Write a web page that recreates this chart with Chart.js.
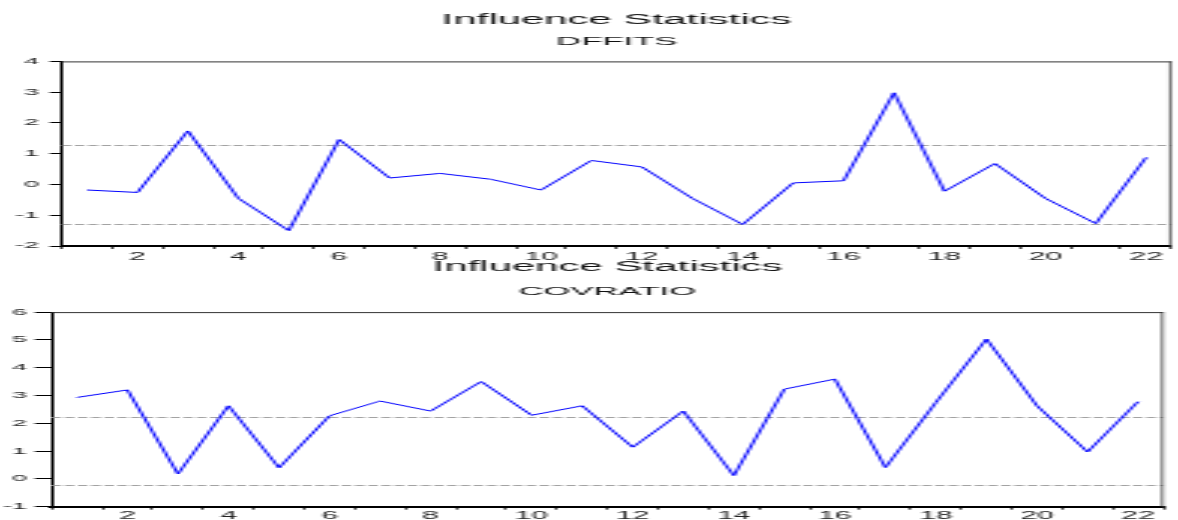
<!DOCTYPE html>
<html>
<head>
<meta charset="utf-8">
<script src="https://cdn.jsdelivr.net/npm/chart.js@4"></script>
<style>
  body { margin: 0; background: #fff; }
  #wrap { position: relative; width: 1178px; height: 520px; overflow: hidden; }
  canvas { position: absolute; left: 0; }
</style>
</head>
<body>
<div id="wrap">
  <!-- drawn at a third of the width and stretched, like the wide EViews export -->
  <canvas id="dffitsChart" width="393" height="264" style="top:0;width:1178px;height:264px"></canvas>
  <canvas id="covChart" width="393" height="272" style="top:248px;width:1178px;height:272px"></canvas>
</div>
<script>
// observation numbers on the x axis
var observations = ['1','2','3','4','5','6','7','8','9','10','11','12','13','14','15','16','17','18','19','20','21','22'];

// values
var dffits = [-0.18, -0.26, 1.74, -0.45, -1.50, 1.46, 0.21, 0.36, 0.17, -0.18, 0.78, 0.57, -0.45, -1.30, 0.05, 0.12, 2.98, -0.22, 0.68, -0.45, -1.27, 0.88];
var covratio = [2.93, 3.20, 0.18, 2.63, 0.40, 2.27, 2.80, 2.44, 3.50, 2.29, 2.63, 1.14, 2.44, 0.12, 3.23, 3.59, 0.41, 2.75, 5.03, 2.63, 0.97, 2.78];

// dashed cut-off lines
var dffitsBounds = [1.28, -1.28];
var covratioBounds = [2.21, -0.21];

var FONT = "'Liberation Sans', Arial, sans-serif";

// dashed reference lines + top/right frame of the plot box
var refLines = {
  id: 'refLines',
  beforeDatasetsDraw: function (chart, args, opts) {
    var ctx = chart.ctx, a = chart.chartArea, y = chart.scales.y;
    ctx.save();
    ctx.strokeStyle = '#a3a3a3';
    ctx.lineWidth = 1;
    ctx.setLineDash([3.2, 1.2]);
    opts.values.forEach(function (v) {
      var py = Math.round(y.getPixelForValue(v)) + 0.5;
      ctx.beginPath();
      ctx.moveTo(a.left, py);
      ctx.lineTo(a.right, py);
      ctx.stroke();
    });
    ctx.setLineDash([]);
    ctx.strokeStyle = '#333';
    ctx.beginPath();
    ctx.moveTo(a.left, a.top + 0.5);
    ctx.lineTo(a.right, a.top + 0.5);
    ctx.stroke();
    ctx.lineWidth = 0.7;
    ctx.beginPath();
    ctx.moveTo(a.right - 0.35, a.top);
    ctx.lineTo(a.right - 0.35, a.bottom);
    ctx.stroke();
    ctx.restore();
  }
};

function makeChart(id, subtitle, values, bounds, yMin, yMax, lay) {
  return new Chart(document.getElementById(id), {
    type: 'line',
    data: {
      labels: observations,
      datasets: [{
        label: subtitle,
        data: values,
        borderColor: '#0000ff',
        borderWidth: 1,
        pointRadius: 0,
        tension: 0,
        fill: false
      }]
    },
    plugins: [refLines],
    options: {
      responsive: false,
      devicePixelRatio: 1,
      animation: false,
      layout: { padding: { left: 0, right: lay.right, top: 0, bottom: 0 } },
      plugins: {
        legend: { display: false },
        tooltip: { enabled: false },
        title: {
          display: true,
          fullSize: false,   // centre over the plot box, not the canvas
          text: 'Influence Statistics',
          color: '#111',
          font: { family: FONT, size: 14, weight: 'normal', lineHeight: 1.2 },
          padding: { top: lay.titleTop, bottom: lay.titleBottom }
        },
        subtitle: {
          display: true,
          fullSize: false,
          text: subtitle,
          color: '#111',
          font: { family: FONT, size: 11.5, weight: 'normal', lineHeight: 1.2 },
          padding: { top: 0, bottom: lay.subBottom }
        },
        refLines: { values: bounds }
      },
      scales: {
        x: {
          type: 'category',
          offset: true,
          afterFit: function (s) { s.height = lay.xHeight; },
          grid: { offset: true, drawOnChartArea: false, drawTicks: true, tickLength: 3, color: '#000', lineWidth: 0.7 },
          border: { display: true, color: '#000', width: 2 },
          ticks: {
            autoSkip: false,
            maxRotation: 0,
            padding: lay.xPad,
            color: '#222',
            font: { family: FONT, size: 10 },
            callback: function (val) {
              var lab = this.getLabelForValue(val);
              return Number(lab) % 2 === 0 ? lab : '';
            }
          }
        },
        y: {
          min: yMin,
          max: yMax,
          afterFit: function (s) { s.width = lay.yWidth; },
          grid: { drawOnChartArea: false, drawTicks: true, tickLength: lay.yTick, color: '#000', lineWidth: 1 },
          border: { display: true, color: '#000', width: 1 },
          ticks: {
            stepSize: 1,
            padding: lay.yPad,
            color: '#222',
            font: { family: FONT, size: 9 }
          }
        }
      }
    }
  });
}

makeChart('dffitsChart', 'DFFITS', dffits, dffitsBounds, -2, 4, {
  right: 2.2, titleTop: 11.6, titleBottom: 6.1, subBottom: 13.1,
  xHeight: 18, xPad: 2.5, yWidth: 20.6, yTick: 4, yPad: 3.5
});

makeChart('covChart', 'COVRATIO', covratio, covratioBounds, -1, 6, {
  right: 4.9, titleTop: 11.1, titleBottom: 9.3, subBottom: 13.1,
  xHeight: 13.3, xPad: 0.5, yWidth: 17.2, yTick: 5.6, yPad: 2.5
});
</script>
</body>
</html>
